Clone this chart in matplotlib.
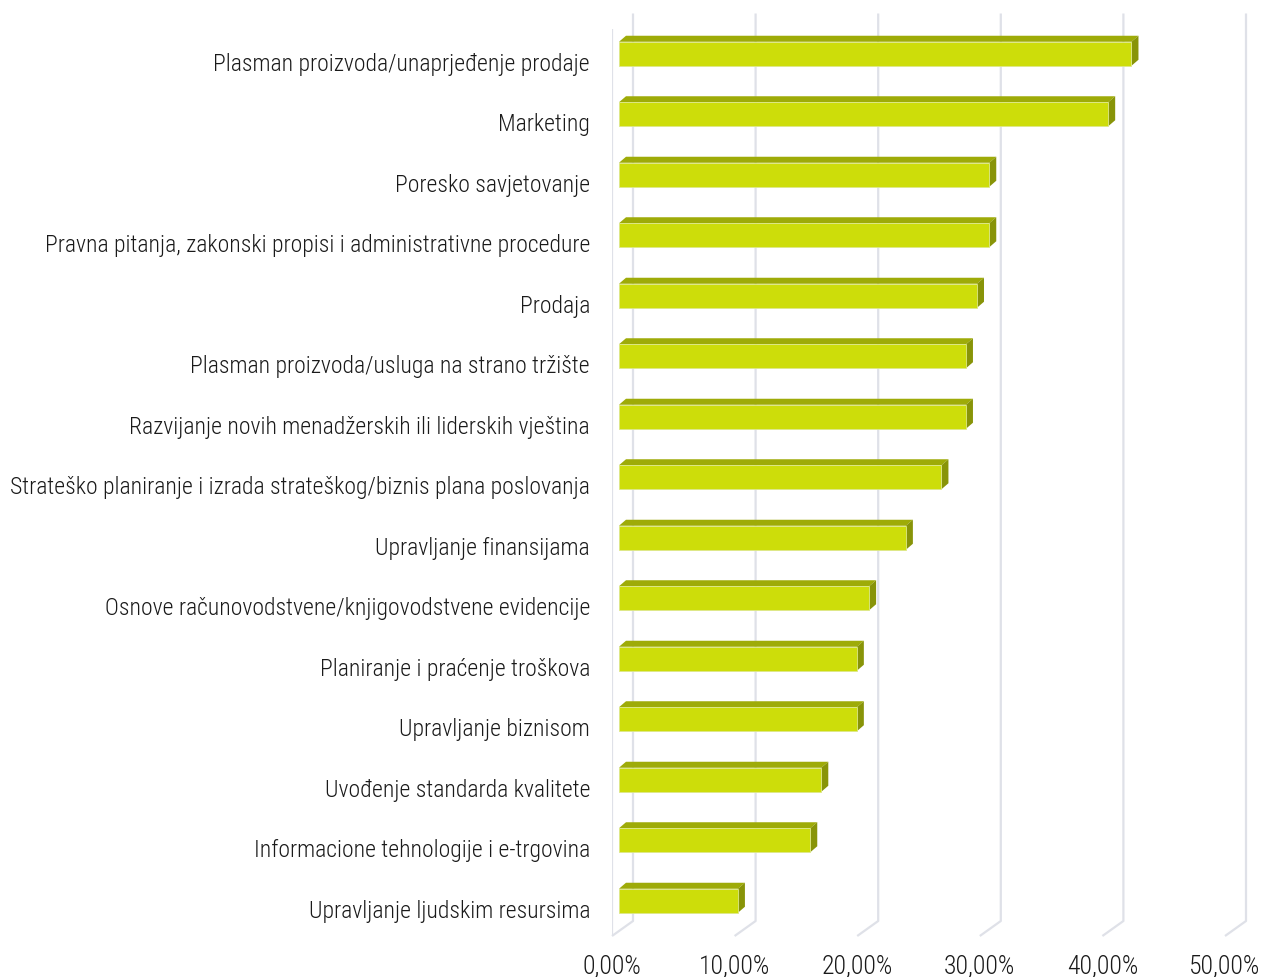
import matplotlib
matplotlib.use('Agg')
import matplotlib.pyplot as plt
import matplotlib.transforms as mtransforms
from matplotlib import font_manager
from matplotlib.patches import Polygon

categories = [
    'Plasman proizvoda/unaprjeđenje prodaje',
    'Marketing',
    'Poresko savjetovanje',
    'Pravna pitanja, zakonski propisi i administrativne procedure',
    'Prodaja',
    'Plasman proizvoda/usluga na strano tržište',
    'Razvijanje novih menadžerskih ili liderskih vještina',
    'Strateško planiranje i izrada strateškog/biznis plana poslovanja',
    'Upravljanje finansijama',
    'Osnove računovodstvene/knjigovodstvene evidencije',
    'Planiranje i praćenje troškova',
    'Upravljanje biznisom',
    'Uvođenje standarda kvalitete',
    'Informacione tehnologije i e-trgovina',
    'Upravljanje ljudskim resursima',
]
values = [41.8, 39.9, 30.2, 30.2, 29.2, 28.3, 28.3, 26.3, 23.4, 20.4, 19.4, 19.4, 16.5, 15.6, 9.7]
x_ticks = [0, 10, 20, 30, 40, 50]
x_tick_labels = ['0,00%', '10,00%', '20,00%', '30,00%', '40,00%', '50,00%']

# pick a narrow font if one is there
names = {f.name for f in font_manager.fontManager.ttflist}
font = 'DejaVu Sans'
for cand in ['Roboto Condensed', 'Liberation Sans Narrow', 'Roboto']:
    if cand in names:
        font = cand
        break
plt.rcParams['font.family'] = [font, 'DejaVu Sans']

W, H = 1262, 978
px_x = 12.26   # pixels per percent
px_y = 60.5    # pixels per category
x0_px = 612
floor_px = 937

fig = plt.figure(figsize=(W / 100, H / 100), dpi=100)
ax = fig.add_axes([x0_px / W, (H - floor_px) / H, (W - x0_px) / W, floor_px / H])
n = len(categories)
ax.set_xlim(0, (W - x0_px) / px_x)
ax.set_ylim(n - 0.5, n - 0.5 - floor_px / px_y)
for s in ax.spines.values():
    s.set_visible(False)

# depth offsets in data units
dx_wall, dy_wall = 21 / px_x, -15 / px_y
bx, by = 7 / px_x, -5 / px_y
tx, ty = 7 / px_x, -6 / px_y
half = 12 / px_y

grid_c = '#dfe1e8'
top_y, bot_y = -0.5, n - 0.5
ax.plot([0, 0], [top_y, bot_y], color=grid_c, lw=1.6, zorder=1, solid_capstyle='butt')
for v in x_ticks:
    ax.plot([v + dx_wall, v + dx_wall, v], [top_y + dy_wall, bot_y + dy_wall, bot_y],
            color=grid_c, lw=1.6, zorder=1, solid_capstyle='butt', clip_on=False)

front_c = '#cddd0a'
top_c = '#9eab08'
side_c = '#889408'
for i, v in enumerate(values):
    xl, xr = bx, v + bx
    yt, yb = i + by - half, i + by + half
    ax.add_patch(Polygon([(xl, yt), (xl + tx, yt + ty), (xr + tx, yt + ty), (xr, yt)],
                         closed=True, facecolor=top_c, edgecolor='none', zorder=3))
    ax.add_patch(Polygon([(xr, yt), (xr + tx, yt + ty), (xr + tx, yb + ty), (xr, yb)],
                         closed=True, facecolor=side_c, edgecolor='none', zorder=3))
    ax.add_patch(Polygon([(xl, yt), (xr, yt), (xr, yb), (xl, yb)],
                         closed=True, facecolor=front_c, edgecolor='#dde88a', lw=0.6, zorder=4))

ax.set_yticks(range(n))
ax.set_yticklabels(categories, fontsize=17, fontweight='light', color='#1a1a1a')
ax.set_xticks(x_ticks)
ax.set_xticklabels(x_tick_labels, fontsize=18.5, fontweight='light', color='#1a1a1a')
ax.tick_params(axis='y', length=0, pad=15.8)
ax.tick_params(axis='x', length=0, pad=12)

# nudge category labels down a touch
shift = mtransforms.ScaledTranslation(0, -2 / 100, fig.dpi_scale_trans)
for lbl in ax.get_yticklabels():
    lbl.set_transform(lbl.get_transform() + shift)

fig.savefig('out.png', dpi=100)
